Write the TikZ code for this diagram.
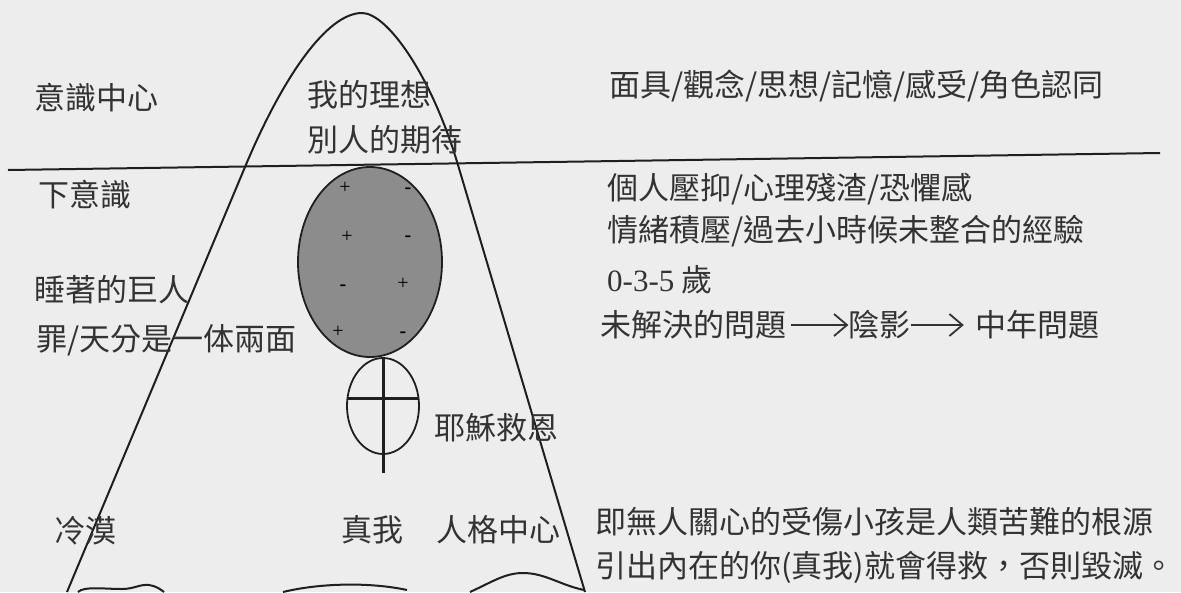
\documentclass[tikz,border=0pt]{standalone}
\usepackage{fontspec}
\newfontfamily\cjk{Noto Sans CJK TC}
\newfontfamily\tnr{Liberation Serif}
\usetikzlibrary{positioning,arrows.meta}

\begin{document}
\begin{tikzpicture}[x=1pt,y=-1pt,
    lbl/.style={anchor=west,inner sep=0pt,text=black!80,font=\cjk\fontsize{31}{31}\selectfont},
    sign/.style={inner sep=0pt,text=black,font=\tnr\fontsize{20}{20}\selectfont},
    arr/.style={line width=1.8pt,black!80,-{Straight Barb[length=13pt,width=22pt,line width=1.8pt]}}]

    % page (pixel units, y down)
    \fill[black!7] (0,0) rectangle (1181,592);
    \useasboundingbox (0,0) rectangle (1181,592);

    %==========================
    % Mountain outline + water line
    %==========================
    \draw[line width=2pt,black!88]
      (67,592) -- (245,167) .. controls (282.7,77) and (327,13) .. (362,13)
      .. controls (387,13) and (431.3,75) .. (458,165) -- (585,592);
    \draw[line width=2pt,black!88] (8,170) -- (1160,153);

    % bottom ripples (cut by the page edge)
    \draw[line width=2pt,black!88]
      (78,592) .. controls (84,586) and (104,589) .. (122,589)
      .. controls (134,589) and (140,584) .. (149,585) .. controls (156,586) and (160,589) .. (164,592);
    \draw[line width=2pt,black!88] (283,592) .. controls (320,583) and (370,582) .. (407,590);
    \draw[line width=2pt,black!88]
      (470,592) .. controls (492,582) and (505,573) .. (523,573)
      .. controls (545,573) and (560,585) .. (584,590);

    %==========================
    % Shadow egg and the cross
    %==========================
    \draw[fill=black!45,draw=black!88,line width=1.8pt] (370,262) ellipse [x radius=72pt,y radius=95pt];
    \draw[line width=1.8pt,black!88] (383,406) ellipse [x radius=36pt,y radius=48pt];
    \draw[line width=3pt,black!88] (383,358) -- (383,473);
    \draw[line width=3pt,black!88] (347.5,398) -- (418.5,398);

    % +/- marks
    \node[sign] (s1) at (345,188) {+};
    \node[sign] (s2) at (408,191) {\textbf{-}};
    \node[sign] (s3) at (347,237) {+};
    \node[sign] (s4) at (408,239) {\textbf{-}};
    \node[sign] (s5) at (343,288) {\textbf{-}};
    \node[sign] (s6) at (403,284) {+};
    \node[sign] (s7) at (338,332) {+};
    \node[sign] (s8) at (403,335) {\textbf{-}};

    %==========================
    % Left column
    %==========================
    \node[lbl] (conscious) at (34,98) {意識中心};
    \node[lbl] (subcon) at (38,195) {下意識};
    \node[lbl] (giant) at (34,290) {睡著的巨人};
    \node[lbl] (twofold) at (36,340) {罪/天分是一体兩面};
    \node[lbl] (cold) at (54,531) {冷漠};

    %==========================
    % Inside the mountain
    %==========================
    \node[lbl] (ideal) at (307,95) {我的理想};
    \node[lbl] (expect) at (307,140) {別人的期待};
    \node[lbl] (grace) at (434,428) {耶穌救恩};
    \node[lbl] (trueself) at (341,530) {真我};
    \node[lbl] (centre) at (436,530) {人格中心};

    %==========================
    % Right column
    %==========================
    \node[lbl] (persona) at (609,86) {面具/觀念/思想/記憶/感受/角色認同};
    \node[lbl] (repress) at (607,189) {個人壓抑/心理殘渣/恐懼感};
    \node[lbl] (emotion) at (607,231) {情緒積壓/過去小時候未整合的經驗};
    \node[lbl] (age) at (607,280) {{\tnr 0-3-5} 歲};
    \node[lbl] (unres) at (600,325) {未解決的問題};
    \node[lbl,right=62pt of unres] (shadow) {陰影};
    \node[lbl,right=64pt of shadow] (midlife) {中年問題};
    \draw[arr] ([xshift=5pt]unres.east) -- (shadow.west);
    \draw[arr] (shadow.east) -- ([xshift=-11pt]midlife.west);
    \node[lbl] (child) at (595,522) {即無人關心的受傷小孩是人類苦難的根源};
    \node[lbl] (saved) at (595,567) {引出內在的你(真我)就會得救，否則毀滅。};

  \end{tikzpicture}
\end{document}
